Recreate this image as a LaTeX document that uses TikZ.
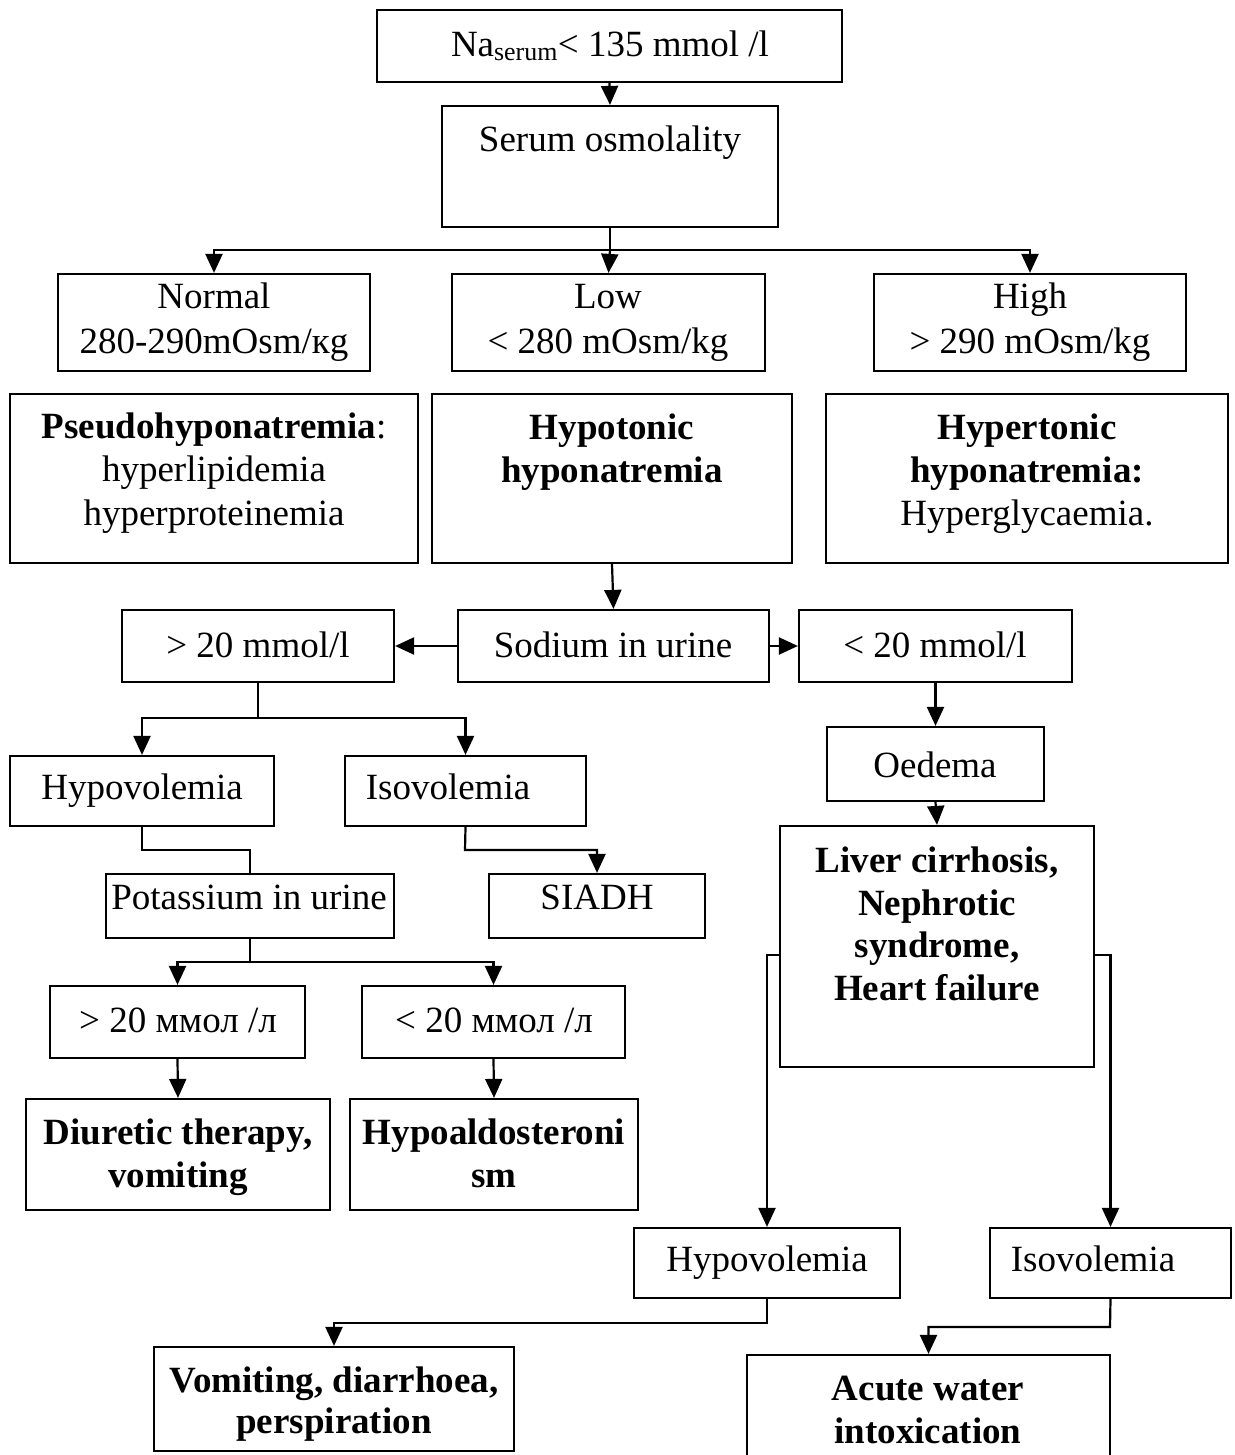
\documentclass[tikz,border=0pt]{standalone}
\usepackage{fontspec}
\setmainfont{Liberation Serif}
\usetikzlibrary{arrows.meta,fit}
\tikzset{
  box/.style={draw, line width=2.2pt, inner sep=0pt},
  lbl/.style={anchor=base, inner sep=0pt, font=\fontsize{37}{42}\selectfont},
  blbl/.style={anchor=base, inner sep=0pt, font=\fontsize{37}{42}\selectfont\bfseries},
  conn/.style={line width=2.2pt},
  arr/.style={line width=2.2pt, -{Triangle[length=19pt,width=17pt]}}
}
\begin{document}
\begin{tikzpicture}[x=1pt,y=-1pt]
\useasboundingbox (0,0) rectangle (1234,1455);
% boxes
\node[box, fit={(377,10) (842,82)}] (na) {};
\node[box, fit={(442,106) (778,227)}] (serum) {};
\node[box, fit={(58,274) (370,371)}] (normal) {};
\node[box, fit={(452,274) (765,371)}] (low) {};
\node[box, fit={(874,274) (1186,371)}] (high) {};
\node[box, fit={(10,394) (418,563)}] (pseudo) {};
\node[box, fit={(432,394) (792,563)}] (hypotonic) {};
\node[box, fit={(826,394) (1228,563)}] (hypertonic) {};
\node[box, fit={(122,610) (394,682)}] (gt) {};
\node[box, fit={(458,610) (769,682)}] (sodium) {};
\node[box, fit={(799,610) (1072,682)}] (lt) {};
\node[box, fit={(827,727) (1044,801)}] (oedema) {};
\node[box, fit={(780,826) (1094,1067)}] (liver) {};
\node[box, fit={(10,756) (274,826)}] (hypoA) {};
\node[box, fit={(345,756) (586,826)}] (isoA) {};
\node[box, fit={(106,874) (394,938)}] (pot) {};
\node[box, fit={(489,874) (705,938)}] (siadh) {};
\node[box, fit={(50,986) (305,1058)}] (kA) {};
\node[box, fit={(362,986) (625,1058)}] (kB) {};
\node[box, fit={(26,1099) (330,1210)}] (diur) {};
\node[box, fit={(350,1099) (638,1210)}] (hald) {};
\node[box, fit={(634,1228) (900,1298)}] (hypoB) {};
\node[box, fit={(990,1228) (1231,1298)}] (isoB) {};
\node[box, fit={(154,1347) (514,1451)}] (vomit) {};
\node[box, fit={(747,1355) (1110,1470)}] (acute) {};
% texts
\node[lbl] (t-na) at (610,57) {Na\textsubscript{serum}< 135 mmol /l};
\node[lbl] (t-serum) at (610,152) {Serum osmolality};
\node[lbl] (t-normal1) at (214,308) {Normal};
\node[lbl] (t-normal2) at (214,353) {280-290mOsm/кg};
\node[lbl] (t-low1) at (608,308) {Low};
\node[lbl] (t-low2) at (608,353) {< 280 mOsm/kg};
\node[lbl] (t-high1) at (1030,308) {High};
\node[lbl] (t-high2) at (1030,353) {> 290 mOsm/kg};
\node[lbl] (t-ps1) at (214,438) {\textbf{Pseudohyponatremia}:};
\node[lbl] (t-ps2) at (214,481) {hyperlipidemia};
\node[lbl] (t-ps3) at (214,525) {hyperproteinemia};
\node[blbl] (t-ho1) at (612,439) {Hypotonic};
\node[blbl] (t-ho2) at (612,482) {hyponatremia};
\node[blbl] (t-he1) at (1027,439) {Hypertonic};
\node[blbl] (t-he2) at (1027,482) {hyponatremia:};
\node[lbl] (t-he3) at (1027,525) {Hyperglycaemia.};
\node[lbl] (t-gt) at (258,657) {> 20 mmol/l};
\node[lbl] (t-sodium) at (613,657) {Sodium in urine};
\node[lbl] (t-lt) at (935,657) {< 20 mmol/l};
\node[lbl] (t-oedema) at (935,777) {Oedema};
\node[blbl] (t-liver1) at (937,872) {Liver cirrhosis,};
\node[blbl] (t-liver2) at (937,915) {Nephrotic};
\node[blbl] (t-liver3) at (937,957) {syndrome,};
\node[blbl] (t-liver4) at (937,1000) {Heart failure};
\node[lbl] (t-hypoA) at (142,799) {Hypovolemia};
\node[lbl] (t-isoA) at (448,799) {Isovolemia};
\node[lbl] (t-pot) at (249,909) {Potassium in urine};
\node[lbl] (t-siadh) at (597,909) {SIADH};
\node[lbl] (t-kA) at (178,1032) {> 20 ммол /л};
\node[lbl] (t-kB) at (494,1032) {< 20 ммол /л};
\node[blbl] (t-diur1) at (178,1144) {Diuretic therapy,};
\node[blbl] (t-diur2) at (178,1187) {vomiting};
\node[blbl] (t-hald1) at (494,1144) {Hypoaldosteroni};
\node[blbl] (t-hald2) at (494,1187) {sm};
\node[lbl] (t-hypoB) at (767,1271) {Hypovolemia};
\node[lbl] (t-isoB) at (1093,1271) {Isovolemia};
\node[blbl] (t-vomit1) at (334,1392) {Vomiting, diarrhoea,};
\node[blbl] (t-vomit2) at (334,1433) {perspiration};
\node[blbl] (t-acute1) at (928,1400) {Acute water};
\node[blbl] (t-acute2) at (928,1443) {intoxication};
% junction coordinates
\coordinate (j1) at (610,250);
\coordinate (j2) at (258,718);
\coordinate (j3) at (142,850);
\coordinate (j4) at (465,850);
\coordinate (j5) at (250,962);
\coordinate (j6) at (767,1323);
\coordinate (j7) at (1110,1327);
\coordinate (jl) at (780,955);
\coordinate (jr) at (1094,955);
% connectors
\draw[arr] (na.south) -- (serum.north);
\draw[conn] (serum.south) -- (j1);
\draw[arr] (j1) -| (normal.north);
\draw[arr] (j1) -| (high.north);
\draw[arr] (j1) -- (low.north);
\draw[arr] (hypotonic.south) -- (sodium.north);
\draw[arr] (sodium.west) -- (gt.east);
\draw[arr] (sodium.east) -- (lt.west);
\draw[conn] (gt.south) -- (j2);
\draw[arr] (j2) -| (hypoA.north);
\draw[arr] (j2) -| (isoA.north);
\draw[conn] (hypoA.south) -- (j3) -| (pot.north);
\draw[arr] (isoA.south) -- (j4) -| (siadh.north);
\draw[conn] (pot.south) -- (j5);
\draw[arr] (j5) -| (kA.north);
\draw[arr] (j5) -| (kB.north);
\draw[arr] (kA.south) -- (diur.north);
\draw[arr] (kB.south) -- (hald.north);
\draw[arr] (lt.south) -- (oedema.north);
\draw[arr] (oedema.south) -- (liver.north);
\draw[arr] (jl) -| (hypoB.north);
\draw[arr] (jr) -| (isoB.north);
\draw[arr] (hypoB.south) -- (j6) -| (vomit.north);
\draw[arr] (isoB.south) -- (j7) -| (acute.north);
\end{tikzpicture}
\end{document}
